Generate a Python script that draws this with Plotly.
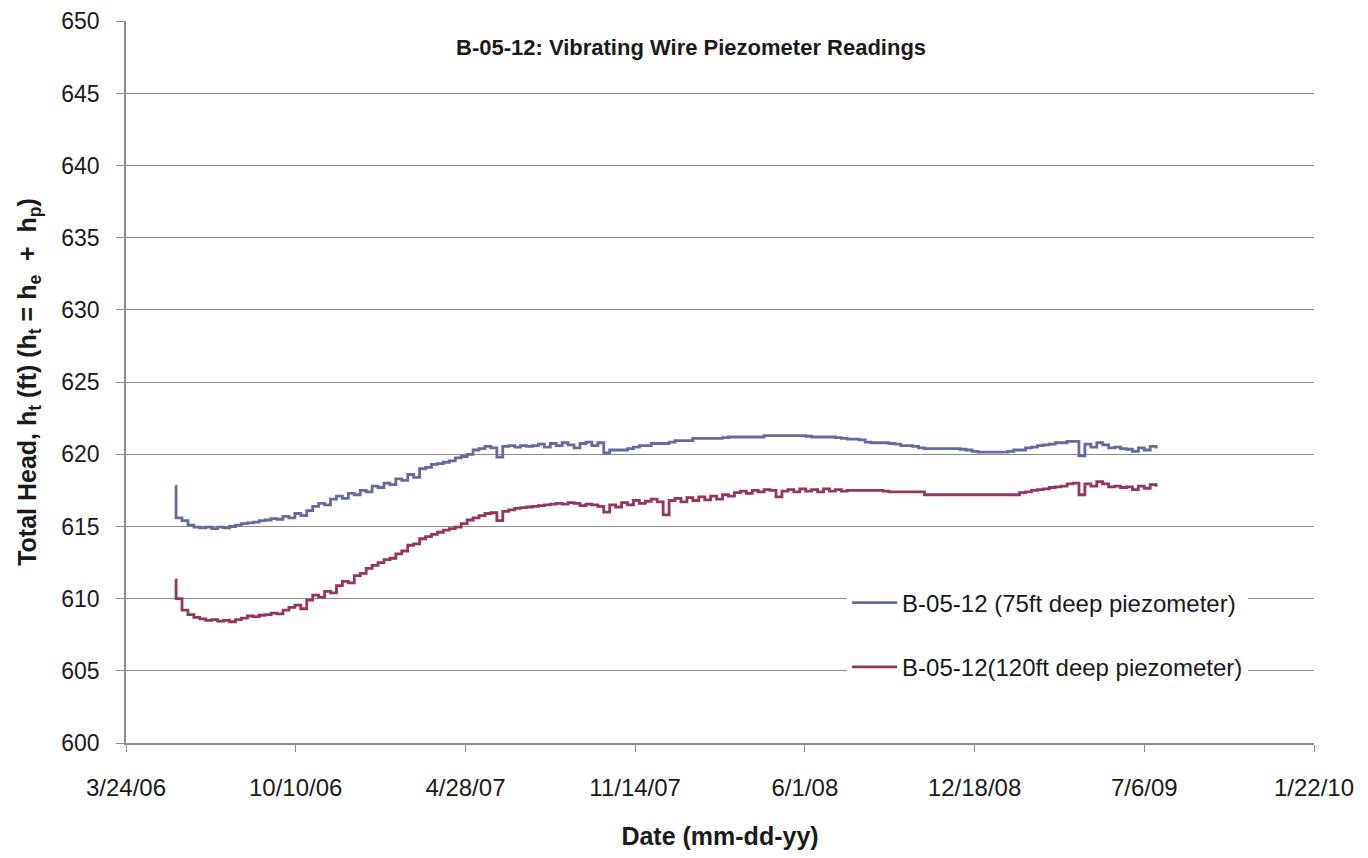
import pandas as pd
import plotly.graph_objects as go

# ---- data ----
start_spike_date = "2006-05-21"
weekly_start = "2006-05-22"
n_weeks = 166

blue_spike = 617.8
blue_vals = [
    615.6, 615.4, 615.1, 614.95, 614.9, 614.95, 614.85, 614.95, 614.9, 615.0,
    615.1, 615.2, 615.25, 615.3, 615.4, 615.45, 615.55, 615.5, 615.7, 615.6,
    615.9, 615.75, 616.1, 616.4, 616.6, 616.5, 616.9, 617.1, 616.95, 617.3,
    617.2, 617.5, 617.4, 617.8, 617.7, 618.0, 617.9, 618.3, 618.2, 618.6,
    618.4, 619.0, 619.1, 619.3, 619.35, 619.45, 619.55, 619.75, 619.85, 620.0,
    620.3, 620.4, 620.55, 620.45, 619.8, 620.55, 620.6, 620.5, 620.6, 620.55,
    620.6, 620.7, 620.5, 620.75, 620.6, 620.8, 620.65, 620.45, 620.75, 620.85,
    620.6, 620.8, 620.1, 620.3, 620.3, 620.3, 620.4, 620.5, 620.6, 620.6,
    620.75, 620.75, 620.75, 620.85, 620.95, 620.95, 620.95, 621.1, 621.1, 621.1,
    621.1, 621.1, 621.15, 621.2, 621.2, 621.2, 621.2, 621.2, 621.2, 621.3,
    621.3, 621.3, 621.3, 621.3, 621.3, 621.3, 621.25, 621.2, 621.2, 621.2,
    621.2, 621.15, 621.1, 621.05, 621.05, 621.0, 620.85, 620.8, 620.8, 620.8,
    620.75, 620.7, 620.6, 620.6, 620.55, 620.45, 620.4, 620.4, 620.4, 620.4,
    620.4, 620.4, 620.35, 620.3, 620.2, 620.15, 620.15, 620.15, 620.15, 620.15,
    620.2, 620.3, 620.3, 620.45, 620.5, 620.6, 620.65, 620.7, 620.8, 620.8,
    620.9, 620.9, 619.9, 620.7, 620.5, 620.8, 620.65, 620.45, 620.5, 620.4,
    620.35, 620.2, 620.45, 620.3, 620.55, 620.4,
]

red_spike = 611.3
red_vals = [
    610.0, 609.2, 608.9, 608.7, 608.6, 608.5, 608.55, 608.45, 608.5, 608.4,
    608.55, 608.65, 608.8, 608.75, 608.85, 608.9, 609.0, 608.95, 609.2, 609.4,
    609.55, 609.3, 609.9, 610.25, 610.1, 610.5, 610.4, 610.9, 611.2, 611.1,
    611.6, 611.75, 612.1, 612.3, 612.5, 612.7, 612.8, 613.1, 613.3, 613.7,
    613.8, 614.15, 614.3, 614.45, 614.6, 614.75, 614.85, 614.95, 615.2, 615.45,
    615.6, 615.75, 615.9, 615.95, 615.4, 616.05, 616.15, 616.25, 616.3, 616.35,
    616.4, 616.45, 616.5, 616.55, 616.6, 616.55, 616.65, 616.6, 616.45, 616.55,
    616.5, 616.4, 616.0, 616.5, 616.35, 616.65, 616.5, 616.8, 616.6, 616.75,
    616.9, 616.7, 615.8, 616.8, 616.95, 616.7, 617.0, 616.8, 617.05, 616.85,
    617.1, 616.9, 617.2, 617.1, 617.35, 617.45, 617.3, 617.5, 617.4, 617.55,
    617.5, 617.05, 617.45, 617.55, 617.4, 617.6, 617.45, 617.55, 617.4, 617.6,
    617.45, 617.55, 617.45, 617.5, 617.5, 617.5, 617.5, 617.5, 617.5, 617.45,
    617.4, 617.4, 617.4, 617.4, 617.4, 617.4, 617.2, 617.2, 617.2, 617.2,
    617.2, 617.2, 617.2, 617.2, 617.2, 617.2, 617.2, 617.2, 617.2, 617.2,
    617.2, 617.2, 617.35, 617.4, 617.5, 617.55, 617.6, 617.7, 617.75, 617.8,
    617.95, 618.0, 617.2, 617.95, 617.8, 618.1, 617.95, 617.75, 617.8, 617.7,
    617.75, 617.55, 617.8, 617.65, 617.9, 617.75,
]

tick_dates = ["2006-03-24", "2006-10-10", "2007-04-28", "2007-11-14",
              "2008-06-01", "2008-12-18", "2009-07-06", "2010-01-22"]
tick_labels = ["3/24/06", "10/10/06", "4/28/07", "11/14/07",
               "6/1/08", "12/18/08", "7/6/09", "1/22/10"]
y_ticks = [600, 605, 610, 615, 620, 625, 630, 635, 640, 645, 650]

series_names = ["B-05-12 (75ft deep piezometer)", "B-05-12(120ft deep piezometer)"]
series_colors = ["#666a9e", "#953560"]

# ---- build ----
dates = [pd.Timestamp(start_spike_date)] + list(pd.date_range(weekly_start, periods=n_weeks, freq="7D"))
blue = [blue_spike] + blue_vals
red = [red_spike] + red_vals

font_fam = "Liberation Sans"
fig = go.Figure()
for i, (name, ys, col) in enumerate(zip(series_names, [blue, red], series_colors)):
    fig.add_trace(go.Scatter(
        x=dates, y=ys, mode="lines", name=name,
        line=dict(color=col, width=2.8, shape="hv"),
        legendgroup=f"g{i}",
    ))

axis_col = "#8c8c8c"
fig.update_layout(
    width=1368, height=858,
    margin=dict(l=118, r=62, t=13, b=123),
    paper_bgcolor="white", plot_bgcolor="white",
    font=dict(family=font_fam, size=23, color="#1a1a1a"),
    showlegend=True,
    legend=dict(x=0.607, y=0.225, xanchor="left", yanchor="top",
                bgcolor="white", tracegroupgap=30,
                font=dict(size=24, family=font_fam), itemwidth=45),
    xaxis=dict(
        type="date",
        range=["2006-03-24", "2010-01-22"],
        tickvals=tick_dates, ticktext=tick_labels,
        showgrid=False, showline=True, linecolor=axis_col, linewidth=1.5,
        ticks="outside", ticklen=7, tickcolor=axis_col,
        ticklabelstandoff=15,
        tickfont=dict(size=24, family=font_fam),
        title=dict(text="<b>Date (mm-dd-yy)</b>", standoff=28,
                   font=dict(size=25, family=font_fam)),
        zeroline=False,
    ),
    yaxis=dict(
        range=[600, 650.02], tickvals=y_ticks,
        automargin=False,
        showgrid=True, gridcolor=axis_col, gridwidth=1.3,
        showline=True, linecolor=axis_col, linewidth=1.5,
        ticks="outside", ticklen=8, tickcolor=axis_col,
        ticklabelstandoff=12, ticklabeloverflow="allow",
        tickfont=dict(size=23, family=font_fam),
        title=dict(text="<b>Total Head, h<sub>t</sub> (ft) (h<sub>t</sub> = h<sub>e</sub>  +  h<sub>p</sub>)</b>",
                   standoff=18, font=dict(size=25, family=font_fam)),
        zeroline=False,
    ),
)

fig.add_annotation(
    text="<b>B-05-12: Vibrating Wire Piezometer Readings</b>",
    xref="paper", yref="paper", x=0.476, y=0.963, xanchor="center", yanchor="middle",
    showarrow=False, font=dict(size=22, family=font_fam, color="#1a1a1a"),
)

fig.write_html("out.html")
